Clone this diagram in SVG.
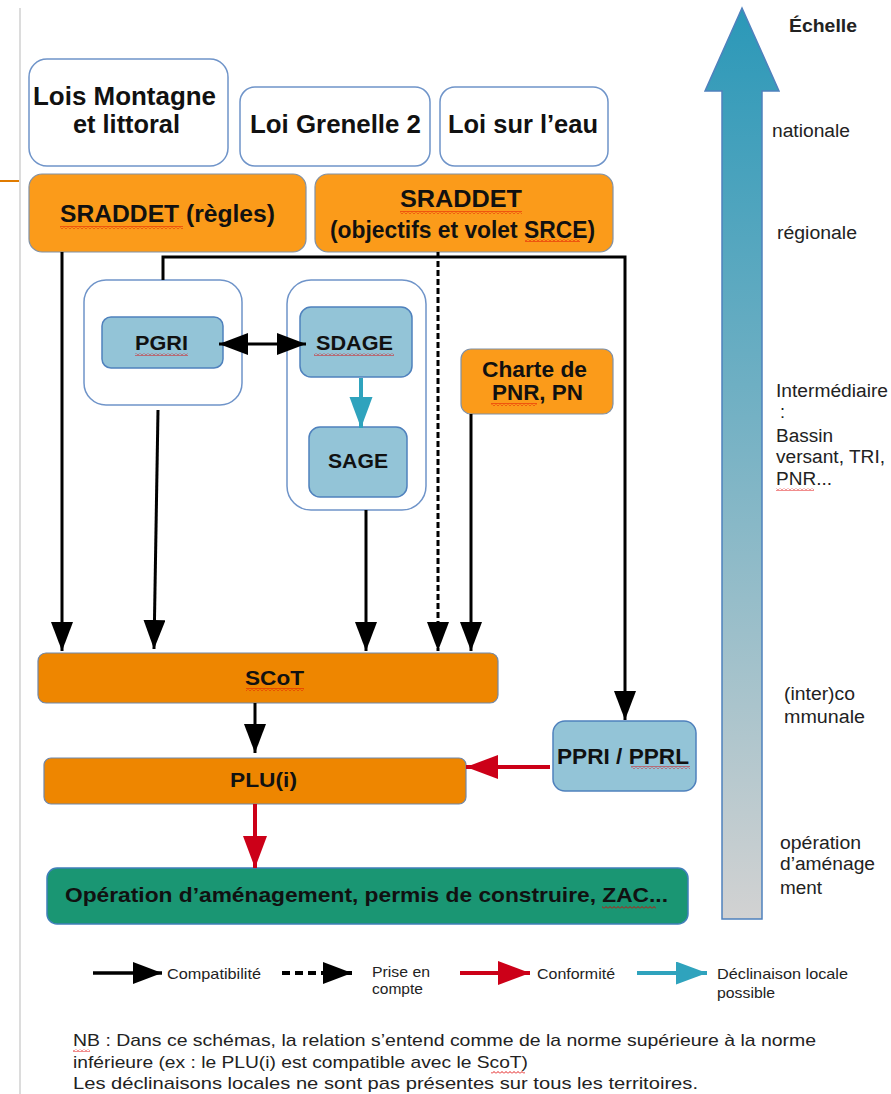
<svg xmlns="http://www.w3.org/2000/svg" width="891" height="1094" viewBox="0 0 891 1094">
<defs>
<style>
.law{fill:#fff;stroke:#6f94c9;stroke-width:1.5}
.or1{fill:#fb9b1a;stroke:#8091a6;stroke-width:1.2}
.or2{fill:#ee8600;stroke:#6f87aa;stroke-width:1.2}
.blu{fill:#93c4d7;stroke:#4f81bd;stroke-width:1.5}
.cont{fill:#fff;stroke:#6f94c9;stroke-width:1.5}
.grn{fill:#1a9673;stroke:#3f7fb9;stroke-width:1.5}
.t{font-family:"Liberation Sans",Arial,sans-serif;font-weight:bold;fill:#111;text-anchor:middle}
.r{font-family:"Liberation Sans",Arial,sans-serif;fill:#222}
.blk{stroke:#000;stroke-width:3;fill:none}
.dash{stroke:#000;stroke-width:3;fill:none;stroke-dasharray:6 3}
.red{stroke:#cc0018;stroke-width:4;fill:none}
.teal{stroke:#2fa3bd;stroke-width:4;fill:none}
</style>
<marker id="hb" markerUnits="userSpaceOnUse" markerWidth="30" markerHeight="22" refX="29" refY="11" orient="auto-start-reverse"><path d="M0,0 L29,11 L0,22 z" fill="#000"/></marker>
<marker id="hr" markerUnits="userSpaceOnUse" markerWidth="32" markerHeight="24" refX="32" refY="12" orient="auto"><path d="M0,0 L32,12 L0,24 z" fill="#cc0018"/></marker>
<marker id="ht" markerUnits="userSpaceOnUse" markerWidth="32" markerHeight="24" refX="31" refY="11.5" orient="auto"><path d="M0,0 L31,11.5 L0,23 z" fill="#2fa3bd"/></marker>
<linearGradient id="ag" gradientUnits="userSpaceOnUse" x1="0" y1="8" x2="0" y2="919">
<stop offset="0" stop-color="#2b98b8"/>
<stop offset="0.45" stop-color="#74b1c4"/>
<stop offset="1" stop-color="#d2d2d2"/>
</linearGradient>
<pattern id="wave" patternUnits="userSpaceOnUse" width="4" height="3"><path d="M0,2.5 L2,0.5 L4,2.5" fill="none" stroke="#e00000" stroke-width="0.9"/></pattern>
</defs>
<rect x="0" y="0" width="891" height="1094" fill="#fff"/>
<line x1="20" y1="8" x2="20" y2="1094" stroke="#dcdcdc" stroke-width="2"/>
<line x1="0" y1="181" x2="19" y2="181" stroke="#e07b00" stroke-width="2"/>

<g id="echelle">
<path d="M722,919 L722,91 L705,91 L742,8 L779,91 L762,91 L762,919 z" fill="url(#ag)" stroke="#4f81bd" stroke-width="1.5"/>
<text class="r" x="789" y="32" font-size="18" font-weight="bold" textLength="68" lengthAdjust="spacingAndGlyphs">Échelle</text>
<text class="r" x="772" y="137" font-size="18" textLength="78" lengthAdjust="spacingAndGlyphs">nationale</text>
<text class="r" x="777" y="239" font-size="18" textLength="80" lengthAdjust="spacingAndGlyphs">régionale</text>
<text class="r" x="776" y="397" font-size="18" textLength="112" lengthAdjust="spacingAndGlyphs">Intermédiaire</text>
<text class="r" x="780" y="418" font-size="18">:</text>
<text class="r" x="776" y="442" font-size="18" textLength="57" lengthAdjust="spacingAndGlyphs">Bassin</text>
<text class="r" x="776" y="463" font-size="18" textLength="109" lengthAdjust="spacingAndGlyphs">versant, TRI,</text>
<text class="r" x="776" y="485" font-size="18" textLength="56" lengthAdjust="spacingAndGlyphs">PNR...</text>
<text class="r" x="784" y="700" font-size="18" textLength="71" lengthAdjust="spacingAndGlyphs">(inter)co</text>
<text class="r" x="784" y="723" font-size="18" textLength="81" lengthAdjust="spacingAndGlyphs">mmunale</text>
<text class="r" x="780" y="849" font-size="18" textLength="81" lengthAdjust="spacingAndGlyphs">opération</text>
<text class="r" x="780" y="870" font-size="18" textLength="95" lengthAdjust="spacingAndGlyphs">d’aménage</text>
<text class="r" x="780" y="894" font-size="18" textLength="42" lengthAdjust="spacingAndGlyphs">ment</text>
</g>

<g id="lois-montagne">
<rect class="law" x="29" y="59" width="199" height="107" rx="18"/>
<text class="t" x="124.5" y="105" font-size="25" textLength="183" lengthAdjust="spacingAndGlyphs">Lois Montagne</text>
<text class="t" x="126.5" y="133" font-size="25" textLength="107" lengthAdjust="spacingAndGlyphs">et littoral</text>
</g>
<g id="loi-grenelle">
<rect class="law" x="240" y="87" width="190" height="79" rx="15"/>
<text class="t" x="335.5" y="133" font-size="25" textLength="171" lengthAdjust="spacingAndGlyphs">Loi Grenelle 2</text>
</g>
<g id="loi-eau">
<rect class="law" x="440" y="87" width="168" height="79" rx="15"/>
<text class="t" x="523" y="133" font-size="25" textLength="150" lengthAdjust="spacingAndGlyphs">Loi sur l’eau</text>
</g>
<g id="sraddet-regles">
<rect class="or1" x="29" y="174" width="277" height="78" rx="13"/>
<text class="t" x="167.5" y="222" font-size="23" textLength="215" lengthAdjust="spacingAndGlyphs">SRADDET (règles)</text>
</g>
<g id="sraddet-objectifs">
<rect class="or1" x="315" y="174" width="298" height="78" rx="13"/>
<text class="t" x="461" y="207" font-size="23" textLength="122" lengthAdjust="spacingAndGlyphs">SRADDET</text>
<text class="t" x="462.5" y="238" font-size="23" textLength="265" lengthAdjust="spacingAndGlyphs">(objectifs et volet SRCE)</text>
</g>
<g id="pgri">
<rect class="cont" x="84" y="280" width="158" height="125" rx="22"/>
<rect class="blu" x="102" y="317" width="121" height="51" rx="9"/>
<text class="t" x="161.5" y="350" font-size="21" textLength="53" lengthAdjust="spacingAndGlyphs">PGRI</text>
</g>
<g id="sdage-sage">
<rect class="cont" x="287" y="280" width="139" height="230" rx="24"/>
<rect class="blu" x="300" y="307" width="112" height="70" rx="11"/>
<text class="t" x="354.5" y="350" font-size="21" textLength="77" lengthAdjust="spacingAndGlyphs">SDAGE</text>
<rect class="blu" x="309" y="427" width="98" height="70" rx="11"/>
<text class="t" x="358" y="468" font-size="21" textLength="60" lengthAdjust="spacingAndGlyphs">SAGE</text>
</g>
<g id="charte">
<rect class="or1" x="461" y="349" width="152" height="65" rx="10"/>
<text class="t" x="534.5" y="377" font-size="22" textLength="105" lengthAdjust="spacingAndGlyphs">Charte de</text>
<text class="t" x="537.5" y="400" font-size="22" textLength="91" lengthAdjust="spacingAndGlyphs">PNR, PN</text>
</g>
<g id="scot">
<rect class="or2" x="38" y="653" width="460" height="50" rx="8"/>
<text class="t" x="274.5" y="685" font-size="21" textLength="59" lengthAdjust="spacingAndGlyphs">SCoT</text>
</g>
<g id="plu">
<rect class="or2" x="44" y="758" width="422" height="46" rx="7"/>
<text class="t" x="263.5" y="787" font-size="20" textLength="67" lengthAdjust="spacingAndGlyphs">PLU(i)</text>
</g>
<g id="ppri">
<rect class="blu" x="553" y="721" width="143" height="70" rx="12"/>
<text class="t" x="623" y="764" font-size="22" textLength="132" lengthAdjust="spacingAndGlyphs">PPRI / PPRL</text>
</g>
<g id="operation">
<rect class="grn" x="47" y="868" width="641" height="56" rx="10"/>
<text class="t" x="366.5" y="902" font-size="21" textLength="603" lengthAdjust="spacingAndGlyphs">Opération d’aménagement, permis de construire, ZAC...</text>
</g>

<g id="connectors">
<line class="blk" x1="62" y1="252" x2="62" y2="651" marker-end="url(#hb)"/>
<polyline class="blk" points="163,280 163,257 625,257 625,720" marker-end="url(#hb)"/>
<line class="dash" x1="438" y1="252" x2="438" y2="651" marker-end="url(#hb)"/>
<line class="blk" x1="158" y1="410" x2="154" y2="649" marker-end="url(#hb)"/>
<line class="blk" x1="366" y1="510" x2="366" y2="651" marker-end="url(#hb)"/>
<line class="blk" x1="471" y1="414" x2="471" y2="651" marker-end="url(#hb)"/>
<line class="blk" x1="219" y1="344" x2="306" y2="344" marker-start="url(#hb)" marker-end="url(#hb)"/>
<line class="teal" x1="361" y1="378" x2="361" y2="428" marker-end="url(#ht)"/>
<line class="blk" x1="255" y1="703" x2="255" y2="753" marker-end="url(#hb)"/>
<line class="red" x1="550" y1="767" x2="466" y2="767" marker-end="url(#hr)"/>
<line class="red" x1="255" y1="804" x2="255" y2="868" marker-end="url(#hr)"/>
</g>

<g id="legend">
<line x1="93" y1="973" x2="162" y2="973" stroke="#000" stroke-width="3.5" marker-end="url(#hb)"/>
<text class="r" x="167" y="979" font-size="15" textLength="94" lengthAdjust="spacingAndGlyphs">Compatibilité</text>
<line x1="282" y1="973" x2="352" y2="973" stroke="#000" stroke-width="4" stroke-dasharray="8 5" marker-end="url(#hb)"/>
<text class="r" x="372" y="977" font-size="15" textLength="58" lengthAdjust="spacingAndGlyphs">Prise en</text>
<text class="r" x="372" y="994" font-size="15" textLength="51" lengthAdjust="spacingAndGlyphs">compte</text>
<line x1="460" y1="973" x2="530" y2="973" stroke="#cc0018" stroke-width="4" marker-end="url(#hr)"/>
<text class="r" x="537" y="979" font-size="15" textLength="78" lengthAdjust="spacingAndGlyphs">Conformité</text>
<line x1="637" y1="973" x2="707" y2="973" stroke="#2fa3bd" stroke-width="4" marker-end="url(#ht)"/>
<text class="r" x="717" y="979" font-size="15" textLength="131" lengthAdjust="spacingAndGlyphs">Déclinaison locale</text>
<text class="r" x="717" y="998" font-size="15" textLength="58" lengthAdjust="spacingAndGlyphs">possible</text>
</g>

<g id="note">
<text class="r" x="73" y="1046" font-size="17" fill="#111" textLength="743" lengthAdjust="spacingAndGlyphs">NB : Dans ce schémas, la relation s’entend comme de la norme supérieure à la norme</text>
<text class="r" x="73" y="1068" font-size="17" fill="#111" textLength="455" lengthAdjust="spacingAndGlyphs">inférieure (ex : le PLU(i) est compatible avec le ScoT)</text>
<text class="r" x="73" y="1089" font-size="17" fill="#111" textLength="625" lengthAdjust="spacingAndGlyphs">Les déclinaisons locales ne sont pas présentes sur tous les territoires.</text>
</g>

<g id="spellcheck-marks" fill="url(#wave)">
<rect x="60" y="226" width="123" height="3"/>
<rect x="400" y="211" width="122" height="3"/>
<rect x="525" y="239" width="55" height="3"/>
<rect x="135" y="353" width="53" height="3"/>
<rect x="314" y="353" width="80" height="3"/>
<rect x="491" y="403" width="46" height="3"/>
<rect x="246" y="688" width="58" height="3"/>
<rect x="631" y="766" width="59" height="3"/>
<rect x="602" y="906" width="54" height="3"/>
<rect x="776" y="488" width="38" height="3"/>
<rect x="73" y="1049" width="17" height="3"/>
<rect x="491" y="1071" width="34" height="3"/>
</g>
</svg>
